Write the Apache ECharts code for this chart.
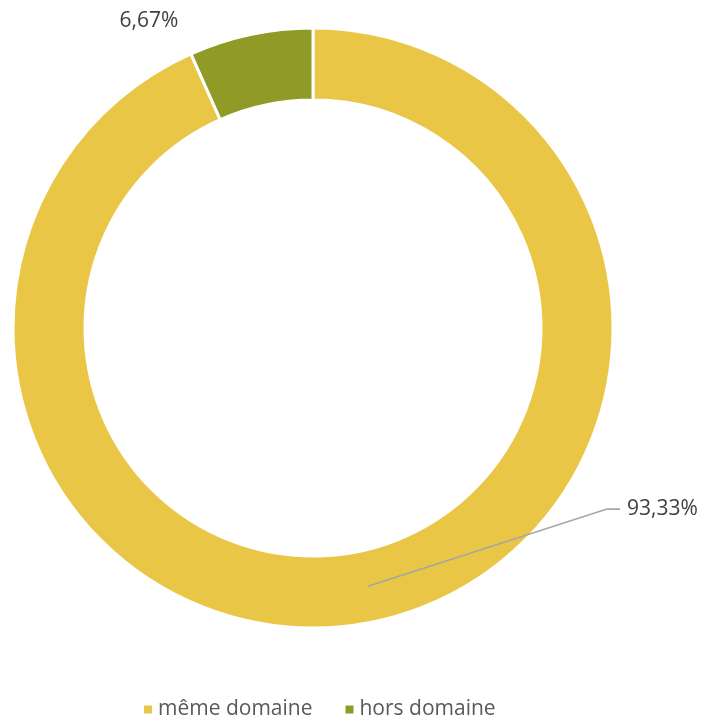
<!DOCTYPE html>
<html>
<head>
<meta charset="utf-8">
<script src="https://cdn.jsdelivr.net/npm/echarts@6/dist/echarts.min.js"></script>
<style>
html,body{margin:0;padding:0;background:#fff;}
#chart{width:704px;height:715px;}
</style>
</head>
<body>
<div id="chart"></div>
<script>
const categories = ['même domaine', 'hors domaine'];
const values = [93.33, 6.67];
const labelTexts = ['93,33%', '6,67%'];
const colors = ['#EAC646', '#8F9B26'];

const CX = 313, CY = 328, R_OUT = 300, R_IN = 228;
const FONT = '"Open Sans", "Noto Sans", sans-serif';

const chart = echarts.init(document.getElementById('chart'));

function labelLayout(p) {
  if (p.dataIndex === 0) {
    const pts = p.labelLinePoints;
    let start = null;
    if (pts && pts[0]) {
      const d = Math.hypot(pts[0][0] - CX, pts[0][1] - CY) || 1;
      const f = (R_IN + R_OUT) / 2 / d;
      start = [CX + (pts[0][0] - CX) * f, CY + (pts[0][1] - CY) * f];
    }
    const lx = 627, ly = 509;
    const out = { x: lx, y: ly, align: 'left', verticalAlign: 'middle' };
    if (start) out.labelLinePoints = [start, [lx - 20, ly], [lx - 7, ly]];
    return out;
  }
  return { x: 149, y: 21, align: 'center', verticalAlign: 'middle' };
}

chart.setOption({
  backgroundColor: '#fff',
  animation: false,
  color: colors,
  legend: {
    data: categories,
    top: 694,
    left: 137,
    icon: 'rect',
    itemWidth: 10,
    itemHeight: 10,
    itemGap: 31,
    textStyle: { fontFamily: FONT, fontSize: 21, color: '#595959' }
  },
  series: [{
    type: 'pie',
    name: 'ring',
    z: 1,
    center: [CX, CY],
    radius: [R_IN, R_OUT],
    startAngle: 90,
    clockwise: true,
    silent: true,
    itemStyle: { borderColor: '#fff', borderWidth: 3 },
    label: { show: false },
    labelLine: { show: false },
    data: categories.map((c, i) => ({ name: c, value: values[i] }))
  }, {
    type: 'pie',
    name: 'labels',
    z: 5,
    center: [CX, CY],
    radius: [R_IN, R_OUT],
    startAngle: 90,
    clockwise: true,
    silent: true,
    avoidLabelOverlap: false,
    legendHoverLink: false,
    itemStyle: { color: 'rgba(0,0,0,0)', borderWidth: 0 },
    label: {
      show: true,
      position: 'outside',
      formatter: p => labelTexts[p.dataIndex],
      fontFamily: FONT,
      fontSize: 21,
      color: '#404040'
    },
    labelLine: { show: true, lineStyle: { color: '#A6A6A6', width: 1.75 } },
    labelLayout: labelLayout,
    data: categories.map((c, i) => ({
      name: c,
      value: values[i],
      labelLine: { show: i === 0 }
    }))
  }]
});
</script>
</body>
</html>
